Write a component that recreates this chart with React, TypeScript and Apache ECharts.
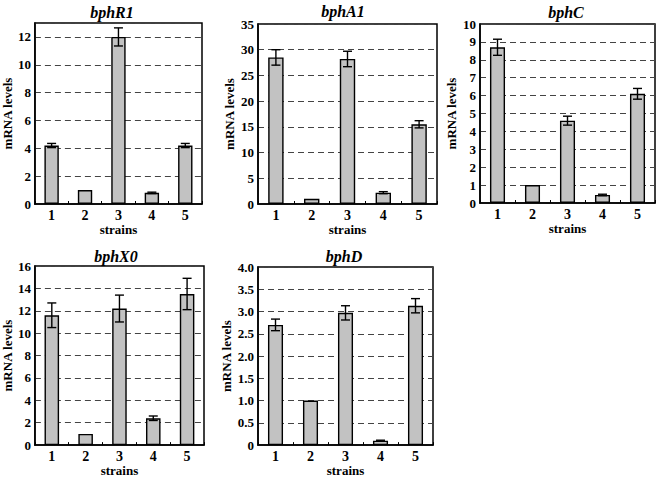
import React, { useEffect, useRef } from "react";
import * as echarts from "echarts";

const strains = ["1", "2", "3", "4", "5"];

const titles = ["bphR1", "bphA1", "bphC", "bphX0", "bphD"];

const bphR1Values = [4.2, 1.0, 12.0, 0.8, 4.2];
const bphR1Errors = [0.15, 0, 0.65, 0.05, 0.15];

const bphA1Values = [28.5, 1.0, 28.2, 2.2, 15.5];
const bphA1Errors = [1.5, 0, 1.5, 0.2, 0.7];

const bphCValues = [8.7, 1.0, 4.6, 0.45, 6.1];
const bphCErrors = [0.45, 0, 0.25, 0.04, 0.3];

const bphX0Values = [11.6, 1.0, 12.2, 2.4, 13.5];
const bphX0Errors = [1.1, 0, 1.2, 0.2, 1.4];

const bphDValues = [2.7, 1.0, 2.97, 0.1, 3.13];
const bphDErrors = [0.13, 0, 0.16, 0.01, 0.16];

const axisMax = [13, 35, 10, 16, 4];
const axisInterval = [2, 5, 1, 2, 0.5];
const labelMax = [12, 35, 10, 16, 4];

const allValues = [bphR1Values, bphA1Values, bphCValues, bphX0Values, bphDValues];
const allErrors = [bphR1Errors, bphA1Errors, bphCErrors, bphX0Errors, bphDErrors];

// layout of each panel: left, top, width, height, title centre
const panels = [
  { left: 28, top: 23, width: 174, height: 181, tx: 112, ty: 12, gap: 16 },
  { left: 258, top: 24, width: 179, height: 180, tx: 343, ty: 11, gap: 22 },
  { left: 480, top: 24, width: 175, height: 179, tx: 566, ty: 12, gap: 22 },
  { left: 31, top: 266, width: 173, height: 182, tx: 116, ty: 256, gap: 19 },
  { left: 258, top: 267, width: 175, height: 181, tx: 344, ty: 256, gap: 25 },
];

const FONT = "'Liberation Serif', 'DejaVu Serif', serif";

export default function App() {
  const ref = useRef<HTMLDivElement>(null);
  useEffect(() => {
    if (!ref.current) return;
    const chart = echarts.init(ref.current, null, { renderer: "svg" });

    const grids: any[] = [];
    const xAxes: any[] = [];
    const yAxes: any[] = [];
    const series: any[] = [];
    const graphics: any[] = [];

    panels.forEach((p, i) => {
      grids.push({
        left: p.left,
        top: p.top,
        width: p.width,
        height: p.height,
        show: true,
        borderColor: "#000",
        borderWidth: 1.5,
        backgroundColor: "transparent",
        containLabel: false,
      });
      xAxes.push({
        type: "category",
        gridIndex: i,
        data: strains,
        name: "strains",
        nameLocation: "middle",
        nameGap: 16,
        nameTextStyle: { fontFamily: FONT, fontWeight: "bold", fontSize: 13, color: "#000" },
        axisLine: { lineStyle: { color: "#000", width: 1.5 } },
        axisTick: { show: true, inside: true, length: 3, lineStyle: { color: "#000" } },
        axisLabel: { fontFamily: FONT, fontWeight: "bold", fontSize: 14, color: "#000", margin: 4 },
        splitLine: { show: false },
      });
      const lm = labelMax[i];
      const isD = i === 4;
      yAxes.push({
        type: "value",
        gridIndex: i,
        min: 0,
        max: axisMax[i],
        interval: axisInterval[i],
        name: "mRNA levels",
        nameLocation: "middle",
        nameGap: p.gap,
        nameTextStyle: { fontFamily: FONT, fontWeight: "bold", fontSize: 13, color: "#000" },
        axisLine: { show: true, lineStyle: { color: "#000", width: 1.5 } },
        axisTick: { show: false },
        axisLabel: {
          fontFamily: FONT,
          fontWeight: "bold",
          fontSize: 13,
          color: "#000",
          margin: 4,
          formatter: (v: number) => {
            if (v > lm + 1e-9) return "";
            if (v === 0) return "0";
            return isD ? v.toFixed(1) : String(v);
          },
        },
        splitLine: { show: true, lineStyle: { color: "#444", type: [6, 4], width: 1 } },
      });
      series.push({
        type: "bar",
        xAxisIndex: i,
        yAxisIndex: i,
        data: allValues[i],
        barWidth: "43%",
        itemStyle: { color: "#c2c2c2", borderColor: "#000", borderWidth: 1.4 },
        z: 3,
      });
      const errData = allValues[i]
        .map((v, k) => [k, v - allErrors[i][k], v + allErrors[i][k], allErrors[i][k]])
        .filter((d) => d[3] > 0);
      series.push({
        type: "custom",
        xAxisIndex: i,
        yAxisIndex: i,
        data: errData,
        encode: { x: 0, y: [1, 2] },
        z: 5,
        renderItem: (params: any, api: any) => {
          const x = api.value(0);
          const lo = api.coord([x, api.value(1)]);
          const hi = api.coord([x, api.value(2)]);
          const hw = 4.5;
          const st = { stroke: "#000", lineWidth: 1.4 };
          return {
            type: "group",
            children: [
              { type: "line", shape: { x1: hi[0], y1: hi[1], x2: lo[0], y2: lo[1] }, style: st },
              { type: "line", shape: { x1: hi[0] - hw, y1: hi[1], x2: hi[0] + hw, y2: hi[1] }, style: st },
              { type: "line", shape: { x1: lo[0] - hw, y1: lo[1], x2: lo[0] + hw, y2: lo[1] }, style: st },
            ],
          };
        },
      });
      graphics.push({
        type: "text",
        x: p.tx,
        y: p.ty,
        style: {
          text: titles[i],
          textAlign: "center",
          textVerticalAlign: "middle",
          font: `italic bold 16px ${FONT}`,
          fill: "#000",
        },
      });
    });

    chart.setOption({
      animation: false,
      backgroundColor: "#fff",
      grid: grids,
      xAxis: xAxes,
      yAxis: yAxes,
      series,
      graphic: graphics,
    });
    return () => chart.dispose();
  }, []);

  return (
    <div
      ref={ref}
      style={{ position: "fixed", left: 0, top: 0, width: 661, height: 478, background: "#fff" }}
    />
  );
}
